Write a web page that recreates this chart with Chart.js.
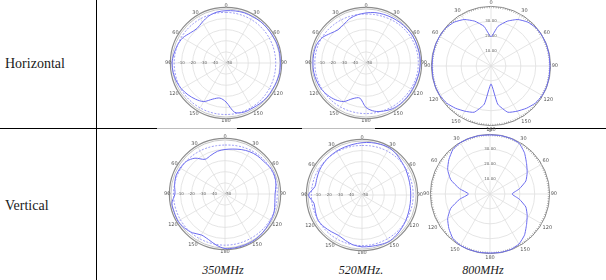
<!DOCTYPE html>
<html lang="en">
<head>
<meta charset="UTF-8">
<title>Antenna radiation patterns</title>
<script src="https://cdn.jsdelivr.net/npm/chart.js"></script>
<style>
  body { margin: 0; width: 606px; height: 280px; position: relative; overflow: hidden; background: #fff; }
  .vline { position: absolute; left: 96px; top: 0; width: 1px; height: 280px; background: #000; }
  .hline { position: absolute; left: 0; top: 128px; width: 606px; height: 1px; background: #000; }
  .hline.light { background: #bdbdbd; }
  .rowlabel { position: absolute; left: 5px; font: 14px/14px "Liberation Serif", serif; color: #1a1a1a; }
  .cap { position: absolute; top: 264px; width: 80px; text-align: center; font: italic 12px/12px "Liberation Serif", serif; color: #1a1a1a; }
  .plot { position: absolute; }
</style>
</head>
<body>
<div class="vline"></div>
<div class="hline"></div>
<div class="hline light" style="left:157px;width:80px"></div>
<div class="hline light" style="left:302px;width:73px"></div>
<div class="rowlabel" style="top:57px">Horizontal</div>
<div class="rowlabel" style="top:199px">Vertical</div>
<div class="cap" style="left:183px">350MHz</div>
<div class="cap" style="left:321px">520MHz.</div>
<div class="cap" style="left:443px">800MHz</div>

<div class="plot" style="left:165px;top:2px;width:122px;height:122px"><canvas id="h350"></canvas></div>
<div class="plot" style="left:305px;top:2px;width:122px;height:122px"><canvas id="h520"></canvas></div>
<div class="plot" style="left:424px;top:-1px;width:134px;height:134px"><canvas id="h800"></canvas></div>
<div class="plot" style="left:164px;top:133px;width:122px;height:122px"><canvas id="v350"></canvas></div>
<div class="plot" style="left:301px;top:134px;width:122px;height:122px"><canvas id="v520"></canvas></div>
<div class="plot" style="left:423px;top:127px;width:134px;height:134px"><canvas id="v800"></canvas></div>

<script>
// angle of each sample, degrees clockwise from top
const angles = [0, 10, 20, 30, 40, 50, 60, 70, 80, 90, 100, 110, 120, 130, 140, 150, 160, 170,
                180, 190, 200, 210, 220, 230, 240, 250, 260, 270, 280, 290, 300, 310, 320, 330, 340, 350];
// labels shown every 30 degrees
const angleTickLabels = ['0', '30', '60', '90', '120', '150', '180', '150', '120', '90', '60', '30'];
const dbTicks = [0, -10, -20, -30, -40, -50];
const linTicks = [10, 20, 30];

// dB patterns (solid = measured, ref = dashed)
const h350 = [-3, -2.5, -2, -2, -1.5, -1.5, -1.5, -1, -1, -1.2, -1, -1.5, -2, -2, -2.5, -3, -3, -5,
              -15, -18, -15.5, -10, -7.5, -5.5, -3.7, -2.5, -1.8, -1.5, -2.5, -3.5, -5, -8, -9.5, -7.5, -5, -3.5];
const h350Ref = [-4.5, -4.6, -4.7, -4.8, -4.9, -5, -5.1, -5.2, -5.3, -5.3, -5.2, -5, -4.8, -4.5, -4.2, -4, -3.8, -3.7,
                 -3.7, -3.6, -3.5, -3.4, -3.3, -3.3, -3.3, -3.3, -3.4, -3.4, -3.5, -3.6, -3.7, -3.8, -4, -4.1, -4.3, -4.4];
const h520 = [-5, -4, -3.5, -3, -2.5, -2, -1.5, -1.5, -1.2, -1.2, -1.5, -2, -2, -2, -2, -2.5, -4, -6,
              -10, -18, -16, -10, -7, -5, -3.5, -2.8, -2.3, -2.3, -2.3, -2.6, -4.5, -8.5, -11, -10, -7.5, -6];
const h520Ref = [-6, -5.8, -5.5, -5, -4.5, -4, -3.5, -3.2, -3, -3, -3, -3.2, -3.5, -3.8, -4, -4.2, -4.4, -4.5,
                 -4.5, -4.5, -4.4, -4.3, -4.2, -4.1, -4, -4, -4, -4, -4, -4.1, -4.3, -4.6, -5, -5.3, -5.6, -5.8];
const v350 = [-10, -9, -7.5, -6, -5, -4.5, -3, -2.5, -3.5, -5, -4.5, -3, -2.5, -2, -1.2, -0.8, -0.8, -0.8,
              -1, -3.5, -6.5, -7.5, -4.5, -2.5, -1.2, -1.5, -1.5, -5, -4, -3, -3.5, -4.5, -8, -14, -13, -11];
const v350Ref = [-6, -5.6, -5, -4.4, -3.8, -3.4, -3.1, -3, -3, -3, -3, -3.1, -3.3, -3.5, -3.7, -3.9, -4, -4,
                 -4, -4, -3.9, -3.8, -3.7, -3.7, -3.7, -3.7, -3.7, -3.7, -3.8, -3.9, -4.1, -4.4, -4.8, -5.2, -5.6, -5.9];
const v520 = [-3, -2.2, -1.5, -1, -2, -3.5, -4.5, -5.5, -6, -6.2, -6, -5.4, -4.5, -3.5, -2.5, -1.7, -2.5, -3.2,
              -3.4, -4.5, -6.5, -8, -7, -5.5, -4.5, -5.5, -6.2, -2, -7, -6.8, -5.8, -5.2, -4.8, -4.5, -4.2, -3.8];
const v520Ref = [-5.5, -5.2, -4.8, -4.5, -4.2, -4, -4, -4, -4, -4, -4, -4.1, -4.2, -4.3, -4.4, -4.5, -4.5, -4.5,
                 -4.5, -4.5, -4.5, -4.5, -4.5, -4.5, -4.5, -4.5, -4.5, -4.5, -4.5, -4.5, -4.6, -4.7, -4.9, -5.1, -5.3, -5.4];

// linear patterns at 800MHz
const h800 = [19.6, 27, 32, 36, 38.4, 39.6, 39.8, 39.8, 39.6, 39.5, 39.6, 39.8, 39.6, 38.8, 37, 35, 33, 26,
              12, 26, 33, 35, 37, 38.8, 39.6, 39.8, 39.6, 39.5, 39.6, 39.8, 39.8, 39.6, 38.4, 36, 32, 27];
const v800 = [39.6, 39.8, 39.8, 39.2, 36, 32, 28.8, 25.6, 20, 14.8, 20, 25.6, 28.8, 32, 36, 38.8, 39.8, 39.8,
              39.6, 39.8, 39.8, 39.8, 38.8, 36, 32.8, 28, 20.8, 14.4, 20.8, 28, 32.8, 36, 38.8, 39.8, 39.8, 39.8];

const pointLabels = angles.map(a => a % 30 === 0 ? angleTickLabels[a / 30] : '');
const blue = '#6b6bef';
const clear = 'rgba(0,0,0,0)';

// dB values written horizontally along the left radius
const sideTicks = {
  id: 'sideTicks',
  beforeDatasetsDraw(chart) {
    const r = chart.scales.r, ctx = chart.ctx;
    ctx.save();
    ctx.font = '4px "DejaVu Sans"';
    ctx.fillStyle = '#666';
    ctx.textAlign = 'center';
    ctx.textBaseline = 'middle';
    dbTicks.forEach(v => {
      ctx.fillText(String(v), r.xCenter - r.getDistanceFromCenterForValue(v) + (v === -50 ? 3 : 0), r.yCenter);
    });
    ctx.restore();
  }
};

function baseOptions(scale) {
  return {
    responsive: true,
    maintainAspectRatio: false,
    animation: false,
    layout: { padding: 0 },
    plugins: { legend: { display: false }, tooltip: { enabled: false } },
    scales: { r: scale }
  };
}

function pointLabelOpts() {
  return { font: { size: 5, family: 'DejaVu Sans' }, color: '#555', padding: -1 };
}

function dbChart(id, main, ref) {
  new Chart(document.getElementById(id), {
    type: 'radar',
    data: {
      labels: pointLabels,
      datasets: [
        { data: ref, borderColor: '#8585f2', borderWidth: 0.8, borderDash: [2, 1.5], pointRadius: 0, fill: false, tension: 0.3 },
        { data: main, borderColor: blue, borderWidth: 1, pointRadius: 0, fill: false, tension: 0.3 }
      ]
    },
    options: baseOptions({
      min: -50, max: 0,
      afterBuildTicks: s => { s.ticks.push({ value: -1.4 }); },
      ticks: { display: false, stepSize: 10 },
      grid: {
        circular: true,
        color: c => c.tick.value === 0 ? '#8c8c8c' : (c.tick.value === -1.4 ? '#b8b8b8' : '#dedede'),
        lineWidth: c => c.tick.value === 0 ? 1.2 : 0.8
      },
      angleLines: { color: c => c.index % 3 === 0 ? '#dedede' : clear, lineWidth: 0.8 },
      pointLabels: pointLabelOpts()
    }),
    plugins: [sideTicks]
  });
}

function linChart(id, main) {
  new Chart(document.getElementById(id), {
    type: 'radar',
    data: {
      labels: pointLabels,
      datasets: [
        { data: main, borderColor: blue, borderWidth: 1, pointRadius: 0, fill: false, tension: 0.15 }
      ]
    },
    options: baseOptions({
      min: 0, max: 40,
      afterBuildTicks: s => { s.ticks.push({ value: 39.3 }); },
      ticks: {
        stepSize: 10,
        font: { size: 4, family: 'DejaVu Sans' },
        color: '#666',
        backdropPadding: 0,
        backdropColor: 'rgba(255,255,255,0.6)',
        callback: v => linTicks.includes(v) ? v.toFixed(2) : ''
      },
      grid: {
        circular: true,
        color: c => c.tick.value === 40 ? '#8c8c8c' : (c.tick.value === 39.3 ? '#7a7a7a' : '#dedede'),
        lineWidth: c => c.tick.value === 39.3 ? 1.6 : (c.tick.value === 40 ? 1 : 0.8)
      },
      border: { dash: c => c.tick && c.tick.value === 39.3 ? [0.5, 1.8] : [] },
      angleLines: { color: c => c.index % 3 === 0 ? '#dedede' : clear, lineWidth: 0.8 },
      pointLabels: pointLabelOpts()
    })
  });
}

dbChart('h350', h350, h350Ref);
dbChart('h520', h520, h520Ref);
linChart('h800', h800);
dbChart('v350', v350, v350Ref);
dbChart('v520', v520, v520Ref);
linChart('v800', v800);
</script>
</body>
</html>
